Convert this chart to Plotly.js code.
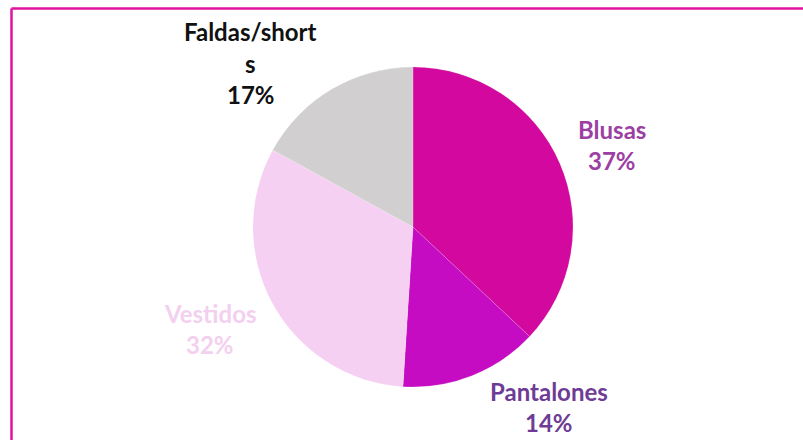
<!DOCTYPE html>
<html>
<head>
<meta charset="utf-8">
<script src="https://cdn.plot.ly/plotly-3.0.1.min.js"></script>
<style>html,body{margin:0;padding:0;background:#fff;}#chart{width:803px;height:440px;}</style>
</head>
<body>
<div id="chart"></div>
<script>
// Data
const categories = ['Blusas', 'Pantalones', 'Vestidos', 'Faldas/shorts'];
const values = [37, 14, 32, 17];
// Label lines as they appear (wrapped) in the reference
const labelLines = [['Blusas'], ['Pantalones'], ['Vestidos'], ['Faldas/short', 's']];

// Styles
const sliceColors = ['#D3089F', '#C60CC3', '#F5D0F2', '#D1CFCF'];
const textColors = ['#9C3FA3', '#6E3C96', '#F3D0EF', '#111111'];
// label block positions in pixels: [centerX, first line centerY]
const labelPos = [[612, 129], [549, 391], [210, 313], [251, 31.5]];
const lineGap = 31.5;

const W = 803, H = 440;
const total = values.reduce((a, b) => a + b, 0);

const annotations = [];
categories.forEach((c, i) => {
  const pct = Math.round(values[i] / total * 100) + '%';
  const lines = labelLines[i].concat([pct]);
  lines.forEach((t, k) => {
    annotations.push({
      text: '<b>' + t + '</b>',
      xref: 'paper', yref: 'paper',
      x: labelPos[i][0] / W,
      y: 1 - (labelPos[i][1] + k * lineGap) / H,
      xanchor: 'center', yanchor: 'middle',
      showarrow: false,
      font: {family: 'Lato, "Open Sans", sans-serif', size: 24, color: textColors[i]}
    });
  });
});

const cx = 413, cy = 227, r = 160;
const trace = {
  type: 'pie',
  labels: categories,
  values: values,
  sort: false,
  direction: 'clockwise',
  rotation: 0,
  textinfo: 'none',
  hoverinfo: 'label+percent',
  marker: {colors: sliceColors, line: {color: 'rgba(255,255,255,0.25)', width: 0.6}},
  domain: {
    x: [(cx - r) / W, (cx + r) / W],
    y: [1 - (cy + r) / H, 1 - (cy - r) / H]
  },
  showlegend: false
};

const layout = {
  width: W, height: H,
  margin: {l: 0, r: 0, t: 0, b: 0},
  paper_bgcolor: '#ffffff',
  showlegend: false,
  annotations: annotations,
  shapes: [
    {type: 'line', xref: 'paper', yref: 'paper', x0: 11.5 / W, x1: 1, y0: 1 - 8.5 / H, y1: 1 - 8.5 / H,
     line: {color: '#E0139E', width: 2.5}},
    {type: 'line', xref: 'paper', yref: 'paper', x0: 11.5 / W, x1: 11.5 / W, y0: 0, y1: 1 - 8.5 / H,
     line: {color: '#E0139E', width: 2.5}}
  ]
};

Plotly.newPlot('chart', [trace], layout, {displayModeBar: false, staticPlot: true});
</script>
</body>
</html>
